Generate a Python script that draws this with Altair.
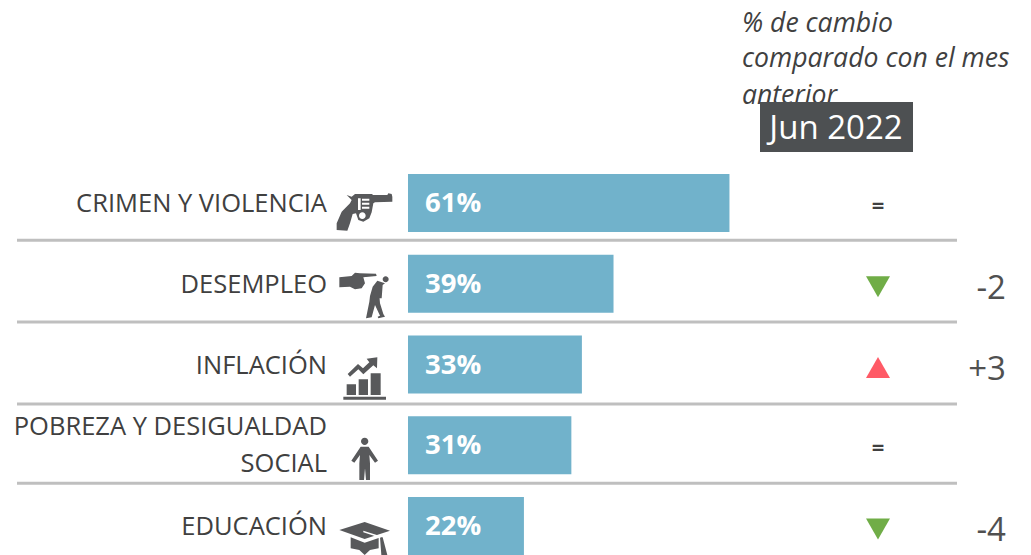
import altair as alt
import pandas as pd

categories = ["CRIMEN Y VIOLENCIA", "DESEMPLEO", "INFLACIÓN", "POBREZA Y DESIGUALDAD SOCIAL", "EDUCACIÓN"]
shares = [61, 39, 33, 31, 22]
share_labels = ["61%", "39%", "33%", "31%", "22%"]
label_lines = ["CRIMEN Y VIOLENCIA", "DESEMPLEO", "INFLACIÓN", "POBREZA Y DESIGUALDAD", "SOCIAL", "EDUCACIÓN"]
label_rows = [0, 1, 2, 2.76, 3.22, 4]
trend = ["=", "down", "up", "=", "down"]
delta_rows = [1, 2, 4]
delta_labels = ["-2", "+3", "-4"]
separator_rows = [0.46, 1.475, 2.49, 3.47]
header_lines = ["% de cambio", "comparado con el mes", "anterior"]
period = "Jun 2022"

FONT = "Open Sans"
TXT = "#404040"
ICON = "#58595b"

GUN = ("M50,75 L65,80 L75,72 L125,72 L130,75 L172,75 L175,70 L185,72 L187,80 L187,95 L135,97 L130,100 "
       "L125,127 L118,145 L100,155 L85,150 L78,130 L68,132 L60,160 L52,182 L20,180 L20,160 L35,125 L60,100 L65,90 Z")
GUN_W = ("M84,85 L92,85 L92,120 L84,120 Z M96,86 L118,86 L118,92 L96,92 Z M96,98 L118,98 L118,104 L96,104 Z "
         "M96,110 L118,110 L118,116 L96,116 Z M87,137 A10,10 0 1 0 107,137 A10,10 0 1 0 87,137 Z")
MAN = ("M28,322 L65,318 L75,308 L90,310 L138,311 L140,318 L100,322 L105,340 L95,355 L75,358 L60,350 L28,352 Z "
       "M158,328 A9,9 0 1 0 176,328 A9,9 0 1 0 158,328 Z "
       "M142,332 L165,340 L158,345 L155,385 L148,385 L147,365 L150,400 L160,432 L165,440 L145,445 L143,440 L150,437 "
       "L135,405 L125,442 L108,445 L110,435 L118,395 L120,378 L128,350 Z")
CHART = ("M50,133 L78,133 L78,165 L50,165 Z M86,118 L114,118 L114,165 L86,165 Z M122,100 L152,100 L152,165 L122,165 Z "
         "M40,170 L168,170 L168,179 L40,179 Z "
         "M53,102 L84,72 L99,85 L118,67 L110,56 L142,52 L141,85 L130,76 L100,103 L85,88 L60,110 Z")
PERSON = ("M93,304 A11,11 0 1 0 115,304 A11,11 0 1 0 93,304 Z "
          "M92,320 L116,320 L144,362 L135,368 L118,345 L120,370 L120,420 L108,420 L105,385 L102,420 L88,420 "
          "L88,370 L90,345 L73,368 L64,362 Z")
CAP = ("M28,570 L104,546 L180,572 L104,597 Z M62,592 L104,608 L146,594 L146,625 L120,630 L104,645 L88,630 L62,625 Z "
       "M150,592 L158,592 L172,645 L154,645 Z")
CAP_W = "M100,572 L150,588 L152,594 L100,577 Z"

rows = list(range(len(categories)))
bars = pd.DataFrame({"cat": categories, "start": [0] * 5, "share": shares, "row": rows, "label": share_labels, "trend": trend})
labels = pd.DataFrame({"label": label_lines, "row": label_rows})
seps = pd.DataFrame({"row": separator_rows})
deltas = pd.DataFrame({"row": delta_rows, "label": delta_labels})
one = pd.DataFrame({"a": [0]})

X = alt.Scale(domain=[-75.9, 116.7], range=[0, 1015], nice=False, zero=False)
Y = alt.Scale(domain=[-2.415, 4.359], range=[0, 547], nice=False, zero=False, padding=0)
ynum = alt.Y("row:Q", scale=Y, axis=None)

bar = alt.Chart(bars).mark_bar(color="#71b2cb", size=58).encode(
    x=alt.X("start:Q", scale=X, axis=None), x2="share:Q", y=ynum)
bar_txt = alt.Chart(bars).mark_text(font=FONT, fontSize=27.5, fontWeight="bold", color="white", align="left", baseline="middle", dy=1).encode(
    x=alt.value(417), y=ynum, text="label:N")
lab = alt.Chart(labels).mark_text(font=FONT, fontSize=25.5, color=TXT, align="right", baseline="middle", dy=1).encode(
    x=alt.value(319), y=ynum, text="label:N")
rule = alt.Chart(seps).mark_rule(color="#bfbfbf", strokeWidth=3).encode(
    x=alt.value(9), x2=alt.value(949), y=ynum)
eq = alt.Chart(bars[bars.trend == "="]).mark_text(font=FONT, fontSize=22, fontWeight="bold", color=TXT, align="center", baseline="middle", dy=3).encode(
    x=alt.value(870), y=ynum, text="trend:N")
down = alt.Chart(bars[bars.trend == "down"]).mark_point(shape="triangle-down", filled=True, opacity=1, size=576, color="#70ad47", yOffset=3).encode(
    x=alt.value(870), y=ynum)
up = alt.Chart(bars[bars.trend == "up"]).mark_point(shape="triangle-up", filled=True, opacity=1, size=576, color="#ff5a66", yOffset=3).encode(
    x=alt.value(870), y=ynum)
dlt = alt.Chart(deltas).mark_text(font=FONT, fontSize=33, color="#505050", align="right", baseline="middle", dy=5).encode(
    x=alt.value(998), y=ynum, text="label:N")

hdr = [alt.Chart(one).mark_text(text=t, font=FONT, fontSize=26.6, fontStyle="italic", color=TXT, align="left", baseline="middle").encode(
    x=alt.value(734), y=alt.value(py)) for t, py in zip(header_lines, [16, 51, 88])]
box = alt.Chart(one).mark_rect(color="#4d5052").encode(
    x=alt.value(752), x2=alt.value(905), y=alt.value(94), y2=alt.value(144))
box_txt = alt.Chart(one).mark_text(text=period, font=FONT, fontSize=33, color="white", align="center", baseline="middle").encode(
    x=alt.value(828), y=alt.value(121))


def icon(path, py, color=ICON):
    return alt.Chart(one).mark_point(shape=path, filled=True, opacity=1, size=4 / 9, color=color, strokeWidth=0).encode(
        x=alt.value(322), y=alt.value(py))


icons = [icon(GUN, 162), icon(GUN_W, 162, "white"), icon(MAN, 162), icon(CHART, 332), icon(PERSON, 332), icon(CAP, 332), icon(CAP_W, 332, "white")]

chart = alt.layer(
    *hdr, box, box_txt, rule, bar, bar_txt, lab, eq, down, up, dlt, *icons
).properties(width=1015, height=547, padding=0, background="white").configure_view(stroke=None)

chart.save("out.html", embed_options={"renderer": "svg", "actions": False})
